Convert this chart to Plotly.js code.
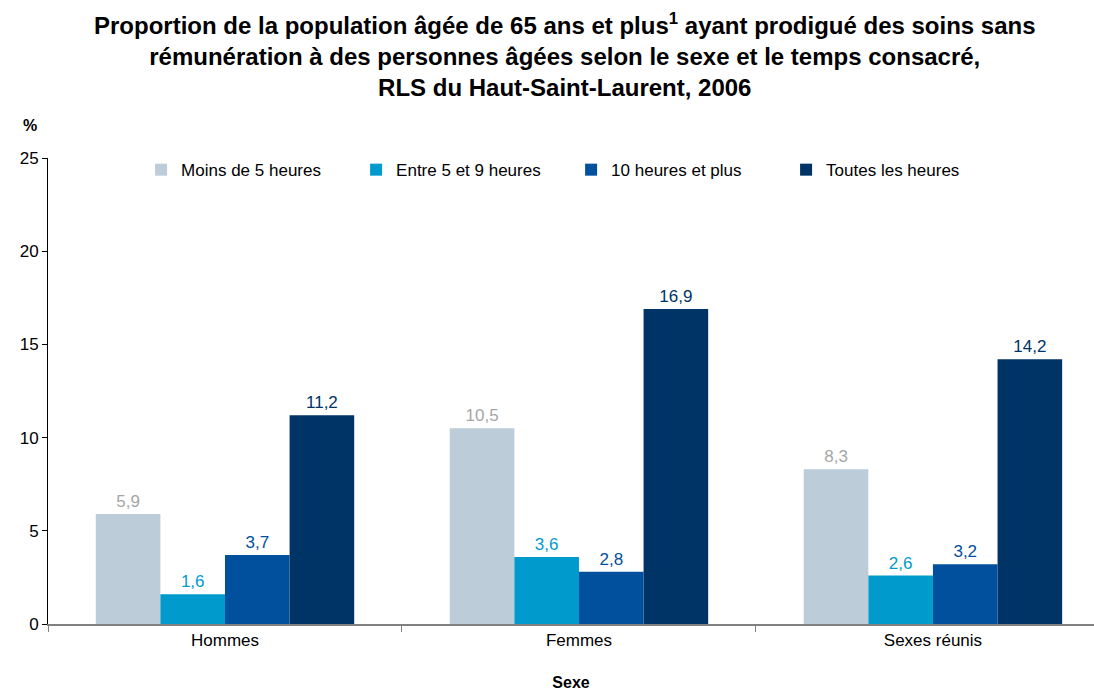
<!DOCTYPE html>
<html><head><meta charset="utf-8">
<script src="https://cdn.plot.ly/plotly-3.0.1.min.js"></script>
<style>body{margin:0;background:#fff}#c{width:1094px;height:691px}</style>
</head><body><div id="c"></div>
<script>
const categories = ["Hommes", "Femmes", "Sexes réunis"];
const seriesNames = ["Moins de 5 heures", "Entre 5 et 9 heures", "10 heures et plus", "Toutes les heures"];
const moins5 = [5.9, 10.5, 8.3];
const entre5et9 = [1.6, 3.6, 2.6];
const dixEtPlus = [3.7, 2.8, 3.2];
const toutes = [11.2, 16.9, 14.2];
const yTicks = [0, 5, 10, 15, 20, 25];

const barColors = ["#BDCCD9", "#009BCC", "#00509E", "#003366"];
const labelColors = ["#A6A6A6", "#009BCC", "#00509E", "#003366"];
const values = [moins5, entre5et9, dixEtPlus, toutes];

const traces = values.map((v, i) => ({
  type: "bar", x: categories, y: v, name: seriesNames[i],
  marker: {color: barColors[i]},
  text: v.map(n => n.toFixed(1).replace(".", ",")),
  textposition: "outside", cliponaxis: false,
  textfont: {family: "Liberation Sans, Arial", size: 17, color: labelColors[i]},
  hoverinfo: "skip"
}));

const layout = {
  width: 1094, height: 691,
  margin: {l: 48, r: 0, t: 158, b: 67},
  paper_bgcolor: "#fff", plot_bgcolor: "#fff",
  font: {family: "Liberation Sans, Arial", size: 17, color: "#000"},
  barmode: "group", bargap: 0.27, bargroupgap: 0,
  xaxis: {
    range: [-0.5, 2.455], type: "category",
    showline: true, linecolor: "#808080", linewidth: 1.5,
    ticks: "outside", tickson: "boundaries", ticklen: 6, tickcolor: "#808080",
    tickfont: {size: 17}, showgrid: false, zeroline: false,
    title: {text: "<b>Sexe</b>", font: {size: 16}, standoff: 32}
  },
  yaxis: {
    range: [0, 25], tickvals: yTicks, ticktext: yTicks.map(String),
    showline: true, linecolor: "#000", linewidth: 1,
    ticks: "outside", ticklen: 5, tickcolor: "#000",
    tickfont: {size: 17}, showgrid: false, zeroline: false
  },
  legend: {
    orientation: "h", x: 0.089, xanchor: "left", y: 0.974, yanchor: "middle",
    font: {size: 17}, entrywidth: 170, entrywidthmode: "pixels",
    bgcolor: "rgba(0,0,0,0)"
  },
  annotations: [
    {text: "<b>Proportion de la population âgée de 65 ans et plus<sup>1</sup> ayant prodigué des soins sans<br>rémunération à des personnes âgées selon le sexe et le temps consacré,<br>RLS du Haut-Saint-Laurent, 2006</b>",
     xref: "paper", yref: "paper", x: 0.494, y: 1.325, xanchor: "center", yanchor: "top",
     showarrow: false, font: {size: 24, color: "#000"}},
    {text: "<b>%</b>", xref: "paper", yref: "paper", x: -0.017, y: 1.07, showarrow: false,
     xanchor: "center", yanchor: "middle", font: {size: 16}}
  ],
  showlegend: true
};

Plotly.newPlot("c", traces, layout, {displayModeBar: false, staticPlot: true});
</script></body></html>
